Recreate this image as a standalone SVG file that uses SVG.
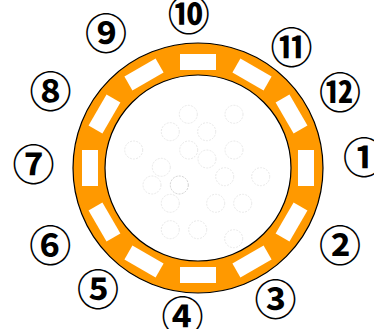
<svg xmlns="http://www.w3.org/2000/svg" width="374" height="329" viewBox="0 0 374 329">
<style>
.ring{fill:#FF9900;stroke:#000;stroke-width:1.2}
.inner{fill:#fff;stroke:#000;stroke-width:1.2}
.slot{fill:#fff}
.dot{fill:none;stroke:#e2e2e2;stroke-width:0.8;stroke-dasharray:2 1.2}
.lbl{font-family:"Noto Sans CJK JP","DejaVu Sans",sans-serif;font-size:42px;font-weight:bold;fill:#000;text-anchor:middle;dominant-baseline:central}
</style>
<g id="ring">
<circle class="ring" cx="198" cy="168" r="125"/>
<circle class="inner" cx="198" cy="168" r="93"/>
<g transform="translate(198 168)">
<rect class="slot" x="-8" y="-18" width="16" height="36" transform="rotate(0) translate(108 0)"/>
<rect class="slot" x="-8" y="-18" width="16" height="36" transform="rotate(30) translate(108 0)"/>
<rect class="slot" x="-8" y="-18" width="16" height="36" transform="rotate(60) translate(108 0)"/>
<rect class="slot" x="-8" y="-18" width="16" height="36" transform="rotate(90) translate(107 0)"/>
<rect class="slot" x="-8" y="-18" width="16" height="36" transform="rotate(120) translate(108 0)"/>
<rect class="slot" x="-8" y="-18" width="16" height="36" transform="rotate(150) translate(108 0)"/>
<rect class="slot" x="-8" y="-18" width="16" height="36" transform="rotate(180) translate(108 0)"/>
<rect class="slot" x="-8" y="-18" width="16" height="36" transform="rotate(210) translate(108 0)"/>
<rect class="slot" x="-8" y="-18" width="16" height="36" transform="rotate(240) translate(108 0)"/>
<rect class="slot" x="-8" y="-18" width="16" height="36" transform="rotate(270) translate(106 0)"/>
<rect class="slot" x="-8" y="-18" width="16" height="36" transform="rotate(300) translate(108 0)"/>
<rect class="slot" x="-8" y="-18" width="16" height="36" transform="rotate(330) translate(108 0)"/>
</g>
</g>
<g id="holes">
<circle class="dot" cx="188.3" cy="114.3" r="9"/>
<circle class="dot" cx="234" cy="114.3" r="9"/>
<circle class="dot" cx="170.3" cy="131.7" r="9"/>
<circle class="dot" cx="206.7" cy="131.7" r="9"/>
<circle class="dot" cx="133.7" cy="150" r="9"/>
<circle class="dot" cx="188.7" cy="150" r="9"/>
<circle class="dot" cx="234" cy="150" r="9"/>
<circle class="dot" cx="207" cy="159" r="9"/>
<circle class="dot" cx="161.3" cy="167.3" r="9"/>
<circle class="dot" cx="224.7" cy="176.7" r="9"/>
<circle class="dot" cx="260.7" cy="176.7" r="9"/>
<circle class="dot" cx="152" cy="185" r="9"/>
<circle class="dot" cx="179.3" cy="185" r="9" style="stroke:#c4c4c4"/>
<circle class="dot" cx="170.3" cy="203.3" r="9"/>
<circle class="dot" cx="215.7" cy="203.3" r="9"/>
<circle class="dot" cx="242.7" cy="203.3" r="9"/>
<circle class="dot" cx="170.3" cy="229.7" r="9"/>
<circle class="dot" cx="197.7" cy="229.7" r="9"/>
<circle class="dot" cx="233.7" cy="238.7" r="9"/>
</g>
<g id="label1"><text class="lbl" x="364" y="154">①</text></g>
<g id="label2"><text class="lbl" x="340" y="242.5">②</text></g>
<g id="label3"><text class="lbl" x="275.5" y="296">③</text></g>
<g id="label4"><text class="lbl" x="182.5" y="313">④</text></g>
<g id="label5"><text class="lbl" x="98" y="286.5">⑤</text></g>
<g id="label6"><text class="lbl" x="50.3" y="242.5">⑥</text></g>
<g id="label7"><text class="lbl" x="33.5" y="161.5">⑦</text></g>
<g id="label8"><text class="lbl" x="50.5" y="88">⑧</text></g>
<g id="label9"><text class="lbl" x="106" y="30.5">⑨</text></g>
<g id="label10"><text class="lbl" x="188.7" y="11">⑩</text></g>
<g id="label11"><text class="lbl" x="291.5" y="44">⑪</text></g>
<g id="label12"><text class="lbl" x="340" y="89">⑫</text></g>
</svg>
